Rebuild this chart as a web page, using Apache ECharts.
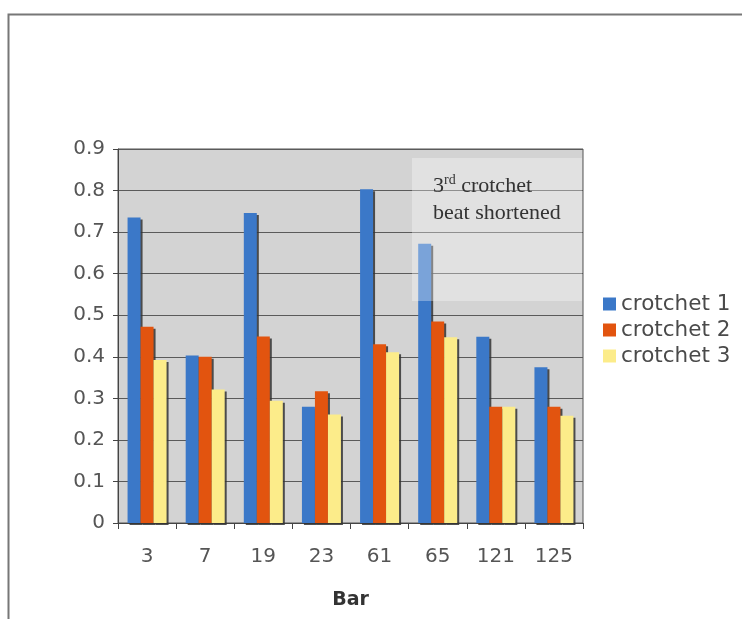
<!DOCTYPE html>
<html>
<head>
<meta charset="utf-8">
<script src="https://cdn.jsdelivr.net/npm/echarts@6/dist/echarts.min.js"></script>
<style>
html,body{margin:0;padding:0;background:#fff;}
#chart{width:742px;height:619px;}
</style>
</head>
<body>
<div id="chart"></div>
<script>
var categories = ['3', '7', '19', '23', '61', '65', '121', '125'];
var crotchet1 = [0.735, 0.403, 0.746, 0.280, 0.803, 0.672, 0.448, 0.375];
var crotchet2 = [0.472, 0.400, 0.449, 0.317, 0.430, 0.485, 0.280, 0.280];
var crotchet3 = [0.392, 0.321, 0.294, 0.261, 0.411, 0.447, 0.280, 0.258];
var seriesNames = ['crotchet 1', 'crotchet 2', 'crotchet 3'];
var yTicks = [0, 0.1, 0.2, 0.3, 0.4, 0.5, 0.6, 0.7, 0.8, 0.9];

var colors = ['#3b78c8', '#e2540f', '#fcec8a'];
var font = 'DejaVu Sans, Verdana, sans-serif';
var serif = 'Liberation Serif, Times New Roman, serif';

var chart = echarts.init(document.getElementById('chart'));

function mkSeries(name, data, color) {
  return {
    name: name,
    type: 'bar',
    data: data,
    barWidth: 13,
    barGap: '0%',
    itemStyle: {
      color: color,
      shadowColor: 'rgba(50,50,50,0.85)',
      shadowOffsetX: 2,
      shadowOffsetY: 2,
      shadowBlur: 0
    },
    emphasis: {disabled: true}
  };
}

chart.setOption({
  animation: false,
  backgroundColor: '#ffffff',
  color: colors,
  grid: {
    left: 118, right: 159, top: 149, bottom: 96,
    show: true,
    backgroundColor: '#d3d3d3',
    borderColor: '#555',
    borderWidth: 1
  },
  legend: {
    orient: 'vertical',
    left: 598,
    top: 288,
    itemWidth: 13,
    itemHeight: 13,
    itemGap: 4,
    icon: 'rect',
    textStyle: {fontFamily: font, fontSize: 21.5, color: '#4a4a4a'},
    data: seriesNames
  },
  xAxis: {
    type: 'category',
    data: categories,
    name: 'Bar',
    nameLocation: 'middle',
    nameGap: 68,
    nameTextStyle: {fontFamily: font, fontSize: 19, fontWeight: 'bold', color: '#333'},
    axisLine: {lineStyle: {color: '#444', width: 1}},
    axisTick: {show: true, length: 6, lineStyle: {color: '#444'}},
    axisLabel: {fontFamily: font, fontSize: 20, color: '#555', margin: 24}
  },
  yAxis: {
    type: 'value',
    min: 0,
    max: 0.9,
    interval: 0.1,
    axisLine: {show: true, lineStyle: {color: '#444'}},
    axisTick: {show: true, length: 5, lineStyle: {color: '#444'}},
    axisLabel: {
      fontFamily: font, fontSize: 20, color: '#555', margin: 13,
      formatter: function (v) {
        for (var i = 0; i < yTicks.length; i++) {
          if (Math.abs(yTicks[i] - v) < 1e-6) return String(yTicks[i]);
        }
        return '';
      }
    },
    splitLine: {show: true, lineStyle: {color: '#5a5a5a', width: 1}}
  },
  series: [
    mkSeries(seriesNames[0], crotchet1, colors[0]),
    mkSeries(seriesNames[1], crotchet2, colors[1]),
    mkSeries(seriesNames[2], crotchet3, colors[2])
  ],
  graphic: [
    {
      type: 'rect',
      shape: {x: 8.5, y: 14.5, width: 760, height: 640},
      style: {fill: 'none', stroke: '#777', lineWidth: 2},
      z: 100
    },
    {
      type: 'rect',
      shape: {x: 412, y: 158, width: 170, height: 143},
      style: {fill: 'rgba(255,255,255,0.32)'},
      z: 50
    },
    {
      type: 'text',
      x: 433,
      y: 200,
      style: {
        text: '{n|3}{s|rd}{n| crotchet}\n{n|beat shortened}',
        align: 'left',
        verticalAlign: 'middle',
        lineHeight: 27,
        rich: {
          n: {fontFamily: serif, fontSize: 22, fill: '#333', lineHeight: 27},
          s: {fontFamily: serif, fontSize: 14, fill: '#333', verticalAlign: 'top', padding: [0, 0, 10, 0], lineHeight: 27}
        }
      },
      z: 60
    }
  ]
});
</script>
</body>
</html>
